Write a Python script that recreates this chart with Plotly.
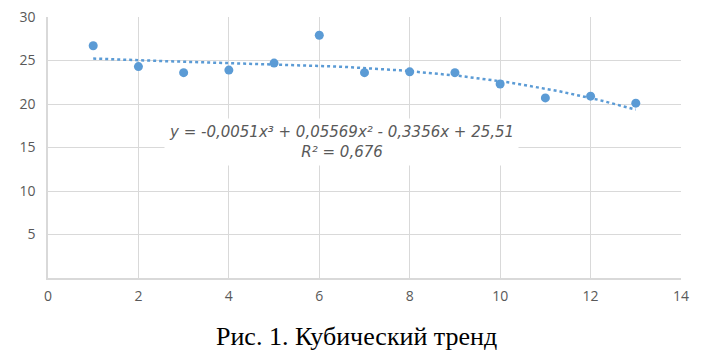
import numpy as np
import plotly.graph_objects as go

x_vals = [1, 2, 3, 4, 5, 6, 7, 8, 9, 10, 11, 12, 13]
y_vals = [26.7, 24.3, 23.6, 23.9, 24.7, 27.9, 23.6, 23.7, 23.6, 22.3, 20.7, 20.9, 20.1]
trend_coefs = [-0.0051, 0.05569, -0.3356, 25.51]  # cubic trend from the chart label
x_ticks = [0, 2, 4, 6, 8, 10, 12, 14]
y_ticks = [5, 10, 15, 20, 25, 30]
eq_text = "<i>y = -0,0051x³ + 0,05569x² - 0,3356x + 25,51<br>R² = 0,676</i>"
caption = "Рис. 1. Кубический тренд"

blue = "#5B9BD5"
grid = "#D9D9D9"
tick_col = "#595959"

xt = np.linspace(min(x_vals), max(x_vals), 100)
yt = np.polyval(trend_coefs, xt)

fig = go.Figure()
fig.add_trace(go.Scatter(x=xt, y=yt, mode="lines",
                         line=dict(color=blue, width=2.5, dash="dot"),
                         hoverinfo="skip", showlegend=False))
fig.add_trace(go.Scatter(x=x_vals, y=y_vals, mode="markers",
                         marker=dict(color=blue, size=9), showlegend=False))

fig.add_annotation(x=6.5, y=15.6, xref="x", yref="y", text=eq_text,
                   showarrow=False, font=dict(family="DejaVu Sans", size=15, color=tick_col),
                   bgcolor="white", borderpad=4, align="center")
fig.add_annotation(x=0.4866, y=-0.226, xref="paper", yref="paper", text=caption,
                   showarrow=False, font=dict(family="Liberation Serif", size=26, color="black"),
                   xanchor="center", yanchor="middle")

fig.update_layout(
    width=703, height=348,
    margin=dict(l=40, r=30, t=9, b=78, autoexpand=False),
    plot_bgcolor="white", paper_bgcolor="white",
    xaxis=dict(range=[0, 14], tickvals=x_ticks, showgrid=True, gridcolor=grid, gridwidth=1,
               zeroline=False, showline=True, linecolor=grid, linewidth=1.5, mirror=False,
               tickfont=dict(family="Open Sans", size=14, color=tick_col), ticks="", ticklen=0,
               ticklabelstandoff=4, ticklabeloverflow="allow", automargin=False),
    yaxis=dict(range=[0, 30], tickvals=y_ticks, showgrid=True, gridcolor=grid, gridwidth=1,
               zeroline=False, showline=True, linecolor=grid, linewidth=1.5,
               tickfont=dict(family="Open Sans", size=14, color=tick_col), ticks="", ticklen=0,
               ticklabelstandoff=8, ticklabeloverflow="allow", automargin=False),
)
fig.write_html("out.html")
